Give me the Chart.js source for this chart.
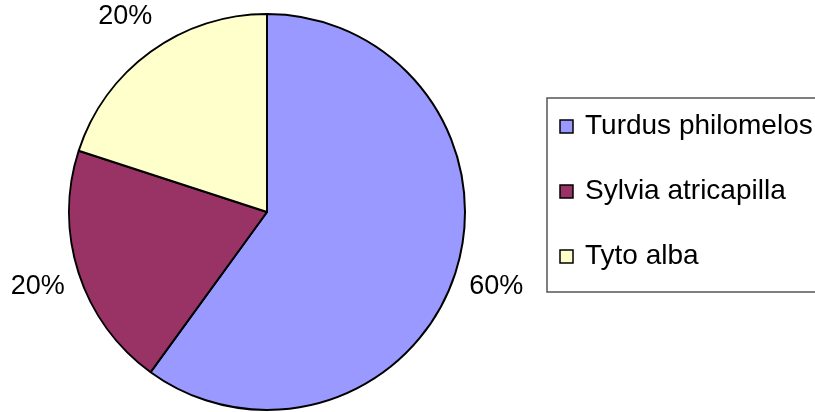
<!DOCTYPE html>
<html>
<head>
<meta charset="utf-8">
<script src="https://cdn.jsdelivr.net/npm/chart.js@4"></script>
<style>
  html, body { margin: 0; padding: 0; background: #fff; }
  canvas { display: block; }
</style>
</head>
<body>
<canvas id="birdPie" width="815" height="412"></canvas>
<script>
const species = ['Turdus philomelos', 'Sylvia atricapilla', 'Tyto alba'];
const shares = [60, 20, 20];
const sliceColors = ['#9999ff', '#993366', '#ffffcc'];

// percent labels around the pie
const pctLabels = {
    id: 'pctLabels',
    afterDatasetsDraw(chart) {
        const ctx = chart.ctx;
        const total = shares.reduce((a, b) => a + b, 0);
        ctx.save();
        ctx.font = '27px "Liberation Sans", Arial, sans-serif';
        ctx.fillStyle = '#000';
        ctx.textAlign = 'center';
        ctx.textBaseline = 'middle';
        chart.getDatasetMeta(0).data.forEach((arc, i) => {
            const mid = (arc.startAngle + arc.endAngle) / 2;
            const r = arc.outerRadius + 43;
            const x = arc.x + Math.cos(mid) * r;
            const y = arc.y + Math.sin(mid) * r;
            ctx.fillText(Math.round(shares[i] / total * 100) + '%', x, y);
        });
        ctx.restore();
    }
};

// boxed legend on the right, like the office chart
const boxLegend = {
    id: 'boxLegend',
    afterDraw(chart) {
        const ctx = chart.ctx;
        const left = 547, top = 98, bottom = 292;
        const rowGap = 65;
        ctx.save();
        ctx.strokeStyle = '#555';
        ctx.lineWidth = 1.5;
        ctx.strokeRect(left, top, chart.width - left + 10, bottom - top);
        ctx.font = '28px "Liberation Sans", Arial, sans-serif';
        ctx.textBaseline = 'alphabetic';
        ctx.textAlign = 'left';
        species.forEach((name, i) => {
            const base = 134 + i * rowGap;
            ctx.fillStyle = sliceColors[i];
            ctx.fillRect(560, base - 14, 13, 13);
            ctx.strokeStyle = '#000';
            ctx.lineWidth = 1.5;
            ctx.strokeRect(560, base - 14, 13, 13);
            ctx.fillStyle = '#000';
            ctx.fillText(name, 585, base);
        });
        ctx.restore();
    }
};

new Chart(document.getElementById('birdPie'), {
    type: 'pie',
    data: {
        labels: species,
        datasets: [{
            data: shares,
            backgroundColor: sliceColors,
            borderColor: '#000',
            borderWidth: 2
        }]
    },
    options: {
        responsive: false,
        animation: false,
        layout: { padding: { left: 68, right: 349, top: 13, bottom: 1 } },
        plugins: {
            legend: { display: false },
            tooltip: { enabled: false }
        }
    },
    plugins: [pctLabels, boxLegend]
});
</script>
</body>
</html>
